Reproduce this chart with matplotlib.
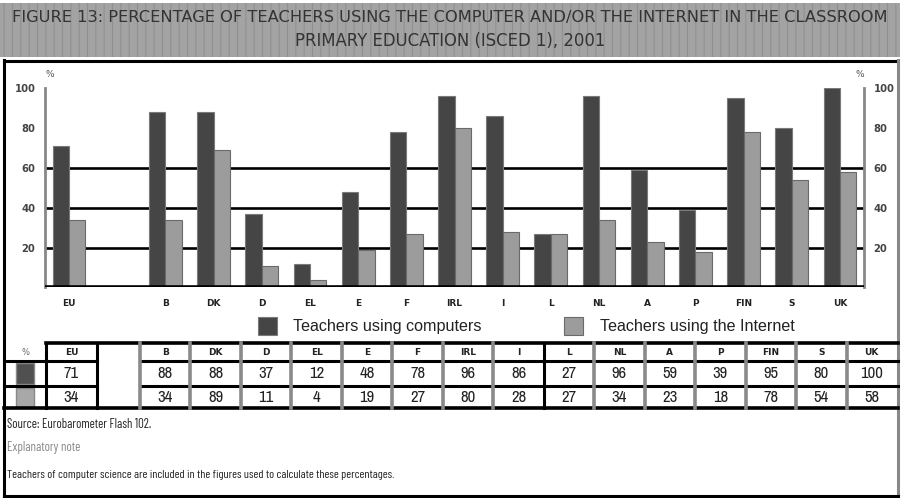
import matplotlib
matplotlib.use('Agg')
import matplotlib.pyplot as plt
import numpy as np
from matplotlib.patches import Rectangle

# Dados do gráfico
countries = ['EU', '', 'B', 'DK', 'D', 'EL', 'E', 'F', 'IRL', 'I', 'L', 'NL', 'A', 'P', 'FIN', 'S', 'UK']
computers = [71, np.nan, 88, 88, 37, 12, 48, 78, 96, 86, 27, 96, 59, 39, 95, 80, 100]
internet = [34, np.nan, 34, 69, 11, 4, 19, 27, 80, 28, 27, 34, 23, 18, 78, 54, 58]  # barras como na figura
internet_table = ['34', '', '34', '89', '11', '4', '19', '27', '80', '28', '27', '34', '23', '18', '78', '54', '58']
computers_table = ['71', '', '88', '88', '37', '12', '48', '78', '96', '86', '27', '96', '59', '39', '95', '80', '100']
yticks = [20, 40, 60, 80, 100]
grid_levels = [20, 40, 60]

title1 = 'FIGURE 13: PERCENTAGE OF TEACHERS USING THE COMPUTER AND/OR THE INTERNET IN THE CLASSROOM'
title2 = 'PRIMARY EDUCATION (ISCED 1), 2001'
source = 'Source: Eurobarometer Flash 102.'
expl = 'Explanatory note'
note = 'Teachers of computer science are included in the figures used to calculate these percentages.'

W, H = 902, 498
DARK = '#454545'
LIGHT = '#9c9c9c'
narrow = ['Archivo Narrow', 'Liberation Sans', 'DejaVu Sans']
condensed = ['Barlow Condensed', 'Archivo Narrow', 'Liberation Sans', 'DejaVu Sans']

plt.rcParams['hatch.linewidth'] = 0.8
fig = plt.figure(figsize=(W / 100, H / 100), dpi=100)
renderer = fig.canvas.get_renderer()


def fit(t, width):
    # ajusta o tamanho da fonte para a largura (px) vista na figura original
    w = t.get_window_extent(renderer=renderer).width
    t.set_fontsize(t.get_fontsize() * width / w)


bg = fig.add_axes([0, 0, 1, 1])
bg.set_xlim(0, W)
bg.set_ylim(H, 0)
bg.axis('off')

# faixa do título
bg.add_patch(Rectangle((0, 3), 900, 54, facecolor='#a3a3a3', edgecolor='#909090', hatch='||', lw=0))
t1 = bg.text(450, 17, title1, ha='center', va='center', fontsize=11, color='#333333', family='DejaVu Sans')
t2 = bg.text(450, 41, title2, ha='center', va='center', fontsize=11, color='#333333', family='DejaVu Sans')
fit(t1, 873)
fit(t2, 310)

# moldura
bg.plot([4, 4], [60, 497], color='black', lw=2.2)
bg.plot([4, 898], [61, 61], color='black', lw=2.2)
bg.plot([898, 898], [60, 497], color='#888888', lw=2.2)
bg.plot([4, 898], [496, 496], color='black', lw=2.2)

# gráfico de barras
ax = fig.add_axes([45 / W, 1 - 287.5 / H, 819 / W, 199.5 / H])
ax.patch.set_alpha(0)
x = np.arange(len(countries))
for g in grid_levels:
    ax.axhline(g, color='black', lw=1.9, zorder=1)
ax.bar(x - 0.17, computers, width=0.34, color=DARK, edgecolor='#7a7a7a', lw=0.8, zorder=2,
       label='Teachers using computers')
ax.bar(x + 0.17, internet, width=0.34, color=LIGHT, edgecolor='#6a6a6a', lw=0.8, zorder=2,
       label='Teachers using the Internet')
ax.axhline(0, color='black', lw=2.6, zorder=3)
ax.set_xlim(-0.5, len(countries) - 0.5)
ax.set_ylim(0, 100)
for s in ['top', 'bottom']:
    ax.spines[s].set_visible(False)
for s in ['left', 'right']:
    ax.spines[s].set_color('#888888')
    ax.spines[s].set_linewidth(2)
ax.set_xticks(x, countries, fontsize=6.5, fontweight='bold', color='#222222')
ax.set_yticks(yticks, [str(v) for v in yticks], fontsize=7.2, fontweight='bold', color='#444444')
ax.tick_params(axis='x', length=0, pad=8)
ax.tick_params(axis='y', length=0, pad=7, labelright=True)
ax.text(0.0, 107, '%', fontsize=6.5, color='#555555', ha='left', va='center',
        transform=ax.get_yaxis_transform())
ax.text(1.0, 107, '%', fontsize=6.5, color='#555555', ha='right', va='center',
        transform=ax.get_yaxis_transform())

# legenda
leg = ax.legend(loc='upper left', bbox_to_anchor=((258 - 45) / 819, (287.5 - 317) / 199.5), ncol=2,
                frameon=False, borderpad=0, borderaxespad=0,
                handlelength=1.2, handleheight=1.3, columnspacing=5.1, handletextpad=1.0,
                prop={'family': 'Liberation Sans', 'size': 11.6})
for t in leg.get_texts():
    t.set_color('#222222')

# tabela
col_edges = [46, 97, 140] + list(np.linspace(140, 897, 16)[1:])
centers = [(col_edges[i] + col_edges[i + 1]) / 2 for i in range(len(col_edges) - 1)]
y_head, y_r1, y_r2, y_bot = 343, 361, 386, 408

bg.plot([46, 898], [y_head, y_head], color='black', lw=2.6)
for yy in [y_r1, y_r2]:
    bg.plot([4, 97], [yy, yy], color='black', lw=2.2)
    bg.plot([140, 898], [yy, yy], color='black', lw=2.2)
bg.plot([4, 898], [y_bot, y_bot], color='black', lw=2.6)
for xe in col_edges[:-1]:
    if xe in (46, 97) or abs(xe - 544) < 3:
        bg.plot([xe, xe], [y_head, y_bot], color='black', lw=2.2)
    else:
        bg.plot([xe, xe], [y_head, y_bot], color='#8a8a8a', lw=2.6)

bg.text(25, 352, '%', ha='center', va='center', fontsize=6, color='#666666')
bg.add_patch(Rectangle((16, 363), 18, 21, facecolor='#505050', edgecolor='#888888', lw=1))
bg.add_patch(Rectangle((16, 388), 18, 19, facecolor='#a8a8a8', edgecolor='#888888', lw=1))

for i, c in enumerate(countries):
    cx = centers[i]
    bg.text(cx, 352, c, ha='center', va='center', fontsize=6.5, fontweight='bold', color='#222222')
    bg.text(cx, 373.5, computers_table[i], ha='center', va='center', fontsize=12, family=narrow, color='#222222')
    bg.text(cx, 397, internet_table[i], ha='center', va='center', fontsize=12, family=narrow, color='#222222')

# notas
ts = bg.text(7, 424, source, ha='left', va='center', fontsize=9, family=condensed, color='#222222')
te = bg.text(7, 447, expl, ha='left', va='center', fontsize=6, family=condensed, color='#888888')
tn = bg.text(7, 475, note, ha='left', va='center', fontsize=9, family=condensed, color='#222222')
fit(ts, 145)
fit(te, 73)
fit(tn, 390)

fig.savefig('out.png', dpi=100)
